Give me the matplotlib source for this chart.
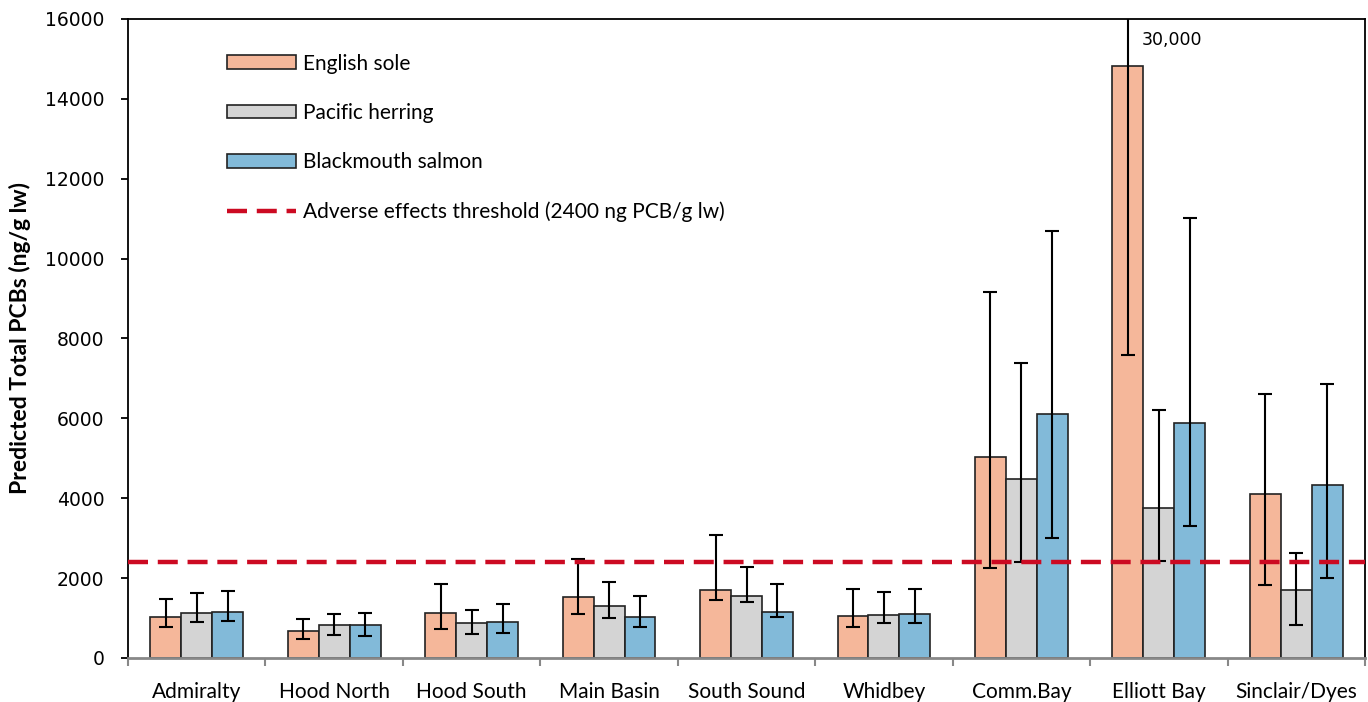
import matplotlib.pyplot as plt
import numpy as np

regions = ['Admiralty', 'Hood North', 'Hood South', 'Main Basin', 'South Sound',
           'Whidbey', 'Comm.Bay', 'Elliott Bay', 'Sinclair/Dyes']
species = ['English sole', 'Pacific herring', 'Blackmouth salmon']

sole = [1020, 685, 1135, 1520, 1690, 1045, 5020, 14830, 4100]
sole_lo = [785, 470, 725, 1100, 1450, 785, 2260, 7580, 1815]
sole_hi = [1470, 970, 1845, 2490, 3080, 1720, 9170, 30000, 6600]

herring = [1120, 835, 885, 1300, 1550, 1085, 4470, 3750, 1700]
herring_lo = [910, 570, 610, 1010, 1400, 875, 2400, 2420, 830]
herring_hi = [1635, 1100, 1200, 1895, 2280, 1645, 7390, 6215, 2630]

salmon = [1145, 820, 910, 1020, 1160, 1100, 6115, 5880, 4335]
salmon_lo = [920, 560, 620, 770, 1035, 870, 3010, 3315, 2005]
salmon_hi = [1670, 1125, 1350, 1560, 1845, 1730, 10680, 11010, 6865]

threshold = 2400

colors = ['#F5B79A', '#D4D4D4', '#82BAD9']

plt.rcParams['font.family'] = ['Lato', 'DejaVu Sans']

fig = plt.figure(figsize=(13.68, 7.02), dpi=100)
ax = fig.add_axes([0.0936, 0.0627, 0.9042, 0.9103])

x = np.arange(len(regions))
w = 0.225
series = [(sole, sole_lo, sole_hi), (herring, herring_lo, herring_hi),
          (salmon, salmon_lo, salmon_hi)]
for i, (vals, lo, hi) in enumerate(series):
    pos = x + (i - 1) * w
    vals = np.array(vals)
    err = [vals - np.array(lo), np.array(hi) - vals]
    ax.bar(pos, vals, w, color=colors[i], edgecolor='#222222', linewidth=1.2,
           label=species[i], zorder=2)
    ax.errorbar(pos, vals, yerr=err, fmt='none', ecolor='black', elinewidth=1.5,
                capsize=5, capthick=1.5, zorder=3)

ax.axhline(threshold, color='#CC0A22', linewidth=3.2, dashes=(4.5, 2.2),
           label='Adverse effects threshold (2400 ng PCB/g lw)', zorder=4)

ax.text(7 - w + 0.1, 15470, '30,000', fontsize=12.5, ha='left', va='center',
        family='DejaVu Sans')

ax.set_xlim(-0.5, len(regions) - 0.5)
ax.set_ylim(0, 16000)
ax.set_yticks(np.arange(0, 16001, 2000))
ax.set_xticks(x)
ax.set_xticklabels(regions, fontsize=15)
ax.set_xticks(np.arange(-0.5, len(regions), 1), minor=True)
ax.tick_params(axis='x', which='major', length=0, pad=17)
ax.tick_params(axis='x', which='minor', length=6, color='#888888', width=1.5)
ax.tick_params(axis='y', labelsize=13.5, length=5, width=1.3, pad=12)
for lbl in ax.get_yticklabels():
    lbl.set_family('DejaVu Sans')
ax.set_ylabel('Predicted Total PCBs (ng/g lw)', fontsize=16.5, fontweight='bold',
              labelpad=10)

for s in ['left', 'top', 'right']:
    ax.spines[s].set_color('black')
    ax.spines[s].set_linewidth(1.3)
ax.spines['bottom'].set_color('#888888')
ax.spines['bottom'].set_linewidth(2)

h, l = ax.get_legend_handles_labels()
h = h[1:] + h[:1]
l = l[1:] + l[:1]
ax.legend(h, l, loc='upper left', bbox_to_anchor=(0.065, 0.975), frameon=False,
          fontsize=15, handlelength=3.3, handleheight=0.65, labelspacing=1.4,
          handletextpad=0.35)

fig.savefig('out.png', dpi=100)
